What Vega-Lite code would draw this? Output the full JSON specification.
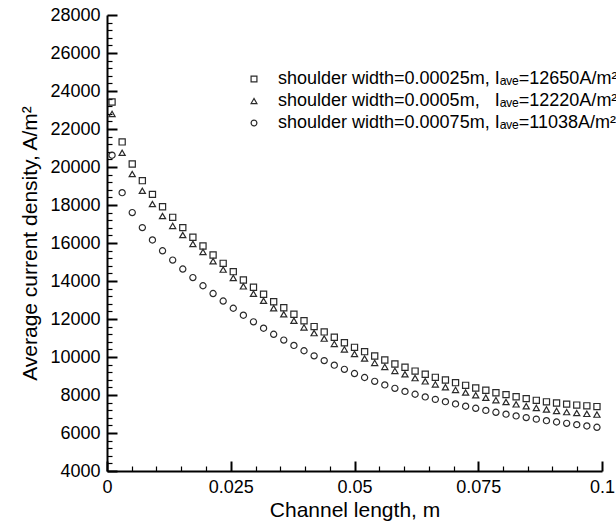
{
  "$schema": "https://vega.github.io/schema/vega-lite/v6.json",
  "width": 495,
  "height": 456,
  "autosize": {"type": "none"},
  "padding": {"left": 107, "top": 15, "right": 14, "bottom": 53},
  "background": "white",
  "config": {"view": {"stroke": null}, "font": "Liberation Sans"},
  "data": {"values": [
    {"x": 0.00102, "a": 23420, "b": 22790, "c": 20620},
    {"x": 0.00306, "a": 21320, "b": 20750, "c": 18650},
    {"x": 0.0051, "a": 20160, "b": 19630, "c": 17600},
    {"x": 0.00714, "a": 19280, "b": 18750, "c": 16810},
    {"x": 0.00918, "a": 18560, "b": 18050, "c": 16160},
    {"x": 0.01122, "a": 17910, "b": 17420, "c": 15590},
    {"x": 0.01327, "a": 17350, "b": 16900, "c": 15100},
    {"x": 0.01531, "a": 16810, "b": 16420, "c": 14630},
    {"x": 0.01735, "a": 16300, "b": 15950, "c": 14180},
    {"x": 0.01939, "a": 15840, "b": 15530, "c": 13750},
    {"x": 0.02143, "a": 15370, "b": 15040, "c": 13340},
    {"x": 0.02347, "a": 14930, "b": 14600, "c": 12945},
    {"x": 0.02551, "a": 14490, "b": 14160, "c": 12565},
    {"x": 0.02755, "a": 14050, "b": 13720, "c": 12200},
    {"x": 0.02959, "a": 13670, "b": 13330, "c": 11850},
    {"x": 0.03163, "a": 13300, "b": 12960, "c": 11515},
    {"x": 0.03367, "a": 12910, "b": 12570, "c": 11195},
    {"x": 0.03571, "a": 12590, "b": 12250, "c": 10890},
    {"x": 0.03776, "a": 12250, "b": 11910, "c": 10610},
    {"x": 0.0398, "a": 11910, "b": 11560, "c": 10330},
    {"x": 0.04184, "a": 11600, "b": 11260, "c": 10060},
    {"x": 0.04388, "a": 11320, "b": 10970, "c": 9810},
    {"x": 0.04592, "a": 11040, "b": 10690, "c": 9570},
    {"x": 0.04796, "a": 10750, "b": 10400, "c": 9350},
    {"x": 0.05, "a": 10510, "b": 10160, "c": 9130},
    {"x": 0.05204, "a": 10280, "b": 9920, "c": 8920},
    {"x": 0.05408, "a": 10050, "b": 9690, "c": 8720},
    {"x": 0.05612, "a": 9840, "b": 9480, "c": 8530},
    {"x": 0.05816, "a": 9630, "b": 9270, "c": 8350},
    {"x": 0.0602, "a": 9460, "b": 9090, "c": 8190},
    {"x": 0.06224, "a": 9260, "b": 8890, "c": 8040},
    {"x": 0.06429, "a": 9090, "b": 8720, "c": 7900},
    {"x": 0.06633, "a": 8930, "b": 8560, "c": 7770},
    {"x": 0.06837, "a": 8790, "b": 8410, "c": 7650},
    {"x": 0.07041, "a": 8650, "b": 8270, "c": 7530},
    {"x": 0.07245, "a": 8510, "b": 8130, "c": 7410},
    {"x": 0.07449, "a": 8370, "b": 7990, "c": 7300},
    {"x": 0.07653, "a": 8250, "b": 7860, "c": 7190},
    {"x": 0.07857, "a": 8120, "b": 7730, "c": 7090},
    {"x": 0.08061, "a": 8020, "b": 7630, "c": 6990},
    {"x": 0.08265, "a": 7910, "b": 7510, "c": 6900},
    {"x": 0.08469, "a": 7810, "b": 7410, "c": 6810},
    {"x": 0.08673, "a": 7720, "b": 7320, "c": 6730},
    {"x": 0.08878, "a": 7640, "b": 7240, "c": 6650},
    {"x": 0.09082, "a": 7580, "b": 7160, "c": 6580},
    {"x": 0.09286, "a": 7520, "b": 7100, "c": 6510},
    {"x": 0.0949, "a": 7470, "b": 7050, "c": 6440},
    {"x": 0.09694, "a": 7430, "b": 7010, "c": 6370},
    {"x": 0.09898, "a": 7390, "b": 6970, "c": 6300}
  ]},
  "transform": [{"fold": ["a", "b", "c"], "as": ["series", "value"]}],
  "resolve": {"axis": {"x": "independent", "y": "independent"}},
  "layer": [
    {
      "mark": {"type": "point", "filled": false, "opacity": 0},
      "encoding": {
        "x": {
          "field": "x", "type": "quantitative",
          "scale": {"domain": [0, 0.1], "nice": false, "zero": false},
          "axis": {
            "orient": "bottom",
            "title": null,
            "labels": false,
            "domain": false,
            "grid": false,
            "values": [0.005, 0.01, 0.015, 0.02, 0.03, 0.035, 0.04, 0.045, 0.055, 0.06, 0.065, 0.07, 0.08, 0.085, 0.09, 0.095],
            "tickSize": -5,
            "tickWidth": 1.2,
            "tickColor": "black"
          }
        },
        "y": {
          "field": "value", "type": "quantitative",
          "scale": {"domain": [4000, 28000], "nice": false, "zero": false},
          "axis": {
            "orient": "left",
            "title": null,
            "labels": false,
            "domain": false,
            "grid": false,
            "values": [4400, 4800, 5200, 5600, 6400, 6800, 7200, 7600, 8400, 8800, 9200, 9600, 10400, 10800, 11200, 11600, 12400, 12800, 13200, 13600, 14400, 14800, 15200, 15600, 16400, 16800, 17200, 17600, 18400, 18800, 19200, 19600, 20400, 20800, 21200, 21600, 22400, 22800, 23200, 23600, 24400, 24800, 25200, 25600, 26400, 26800, 27200, 27600],
            "tickSize": -5,
            "tickWidth": 1.2,
            "tickColor": "black"
          }
        }
      }
    },
    {
      "mark": {"type": "point", "filled": false, "stroke": "#2a2a2a", "strokeWidth": 1.2, "opacity": 1, "size": 38},
      "encoding": {
        "x": {
          "field": "x", "type": "quantitative",
          "scale": {"domain": [0, 0.1], "nice": false, "zero": false},
          "axis": {
            "orient": "bottom",
            "title": "Channel length, m",
            "values": [0, 0.025, 0.05, 0.075, 0.1],
            "labelExpr": "format(datum.value, '.3~f')",
            "tickSize": -10,
            "tickWidth": 2,
            "labelPadding": 17,
            "labelFlush": false,
            "labelOverlap": false,
            "grid": false,
            "domainColor": "black",
            "domainWidth": 2,
            "tickColor": "black",
            "labelColor": "black",
            "labelFontSize": 18,
            "labelFont": "Liberation Sans",
            "titleFont": "Liberation Sans",
            "titleFontSize": 21,
            "titleFontWeight": "normal",
            "titleColor": "black",
            "titlePadding": 3
          }
        },
        "y": {
          "field": "value", "type": "quantitative",
          "scale": {"domain": [4000, 28000], "nice": false, "zero": false},
          "axis": {
            "orient": "left",
            "title": "Average current density, A/m²",
            "values": [4000, 6000, 8000, 10000, 12000, 14000, 16000, 18000, 20000, 22000, 24000, 26000, 28000],
            "labelExpr": "format(datum.value, 'd')",
            "tickSize": -10,
            "tickWidth": 2,
            "labelPadding": 17,
            "labelFlush": false,
            "labelOverlap": false,
            "grid": false,
            "domainColor": "black",
            "domainWidth": 2,
            "tickColor": "black",
            "labelColor": "black",
            "labelFontSize": 18,
            "labelFont": "Liberation Sans",
            "titleFont": "Liberation Sans",
            "titleFontSize": 21,
            "titleFontWeight": "normal",
            "titleColor": "black",
            "titlePadding": 9
          }
        },
        "shape": {
          "field": "series", "type": "nominal",
          "scale": {"domain": ["a", "b", "c"], "range": ["square", "triangle-up", "circle"]},
          "legend": {
            "title": null,
            "orient": "none",
            "legendX": 138,
            "legendY": 55,
            "labelExpr": "datum.value == 'a' ? 'shoulder width=0.00025m, Iₐᵥₑ=12650A/m²' : datum.value == 'b' ? 'shoulder width=0.0005m,\u00a0\u00a0 Iₐᵥₑ=12220A/m²' : 'shoulder width=0.00075m, Iₐᵥₑ=11038A/m²'",
            "labelFontSize": 18,
            "labelFont": "Liberation Sans",
            "labelColor": "black",
            "labelLimit": 600,
            "labelOffset": 15,
            "rowPadding": 4,
            "symbolSize": 34,
            "symbolStrokeColor": "#2a2a2a",
            "symbolStrokeWidth": 1.2,
            "symbolFillColor": "transparent"
          }
        }
      }
    }
  ]
}
